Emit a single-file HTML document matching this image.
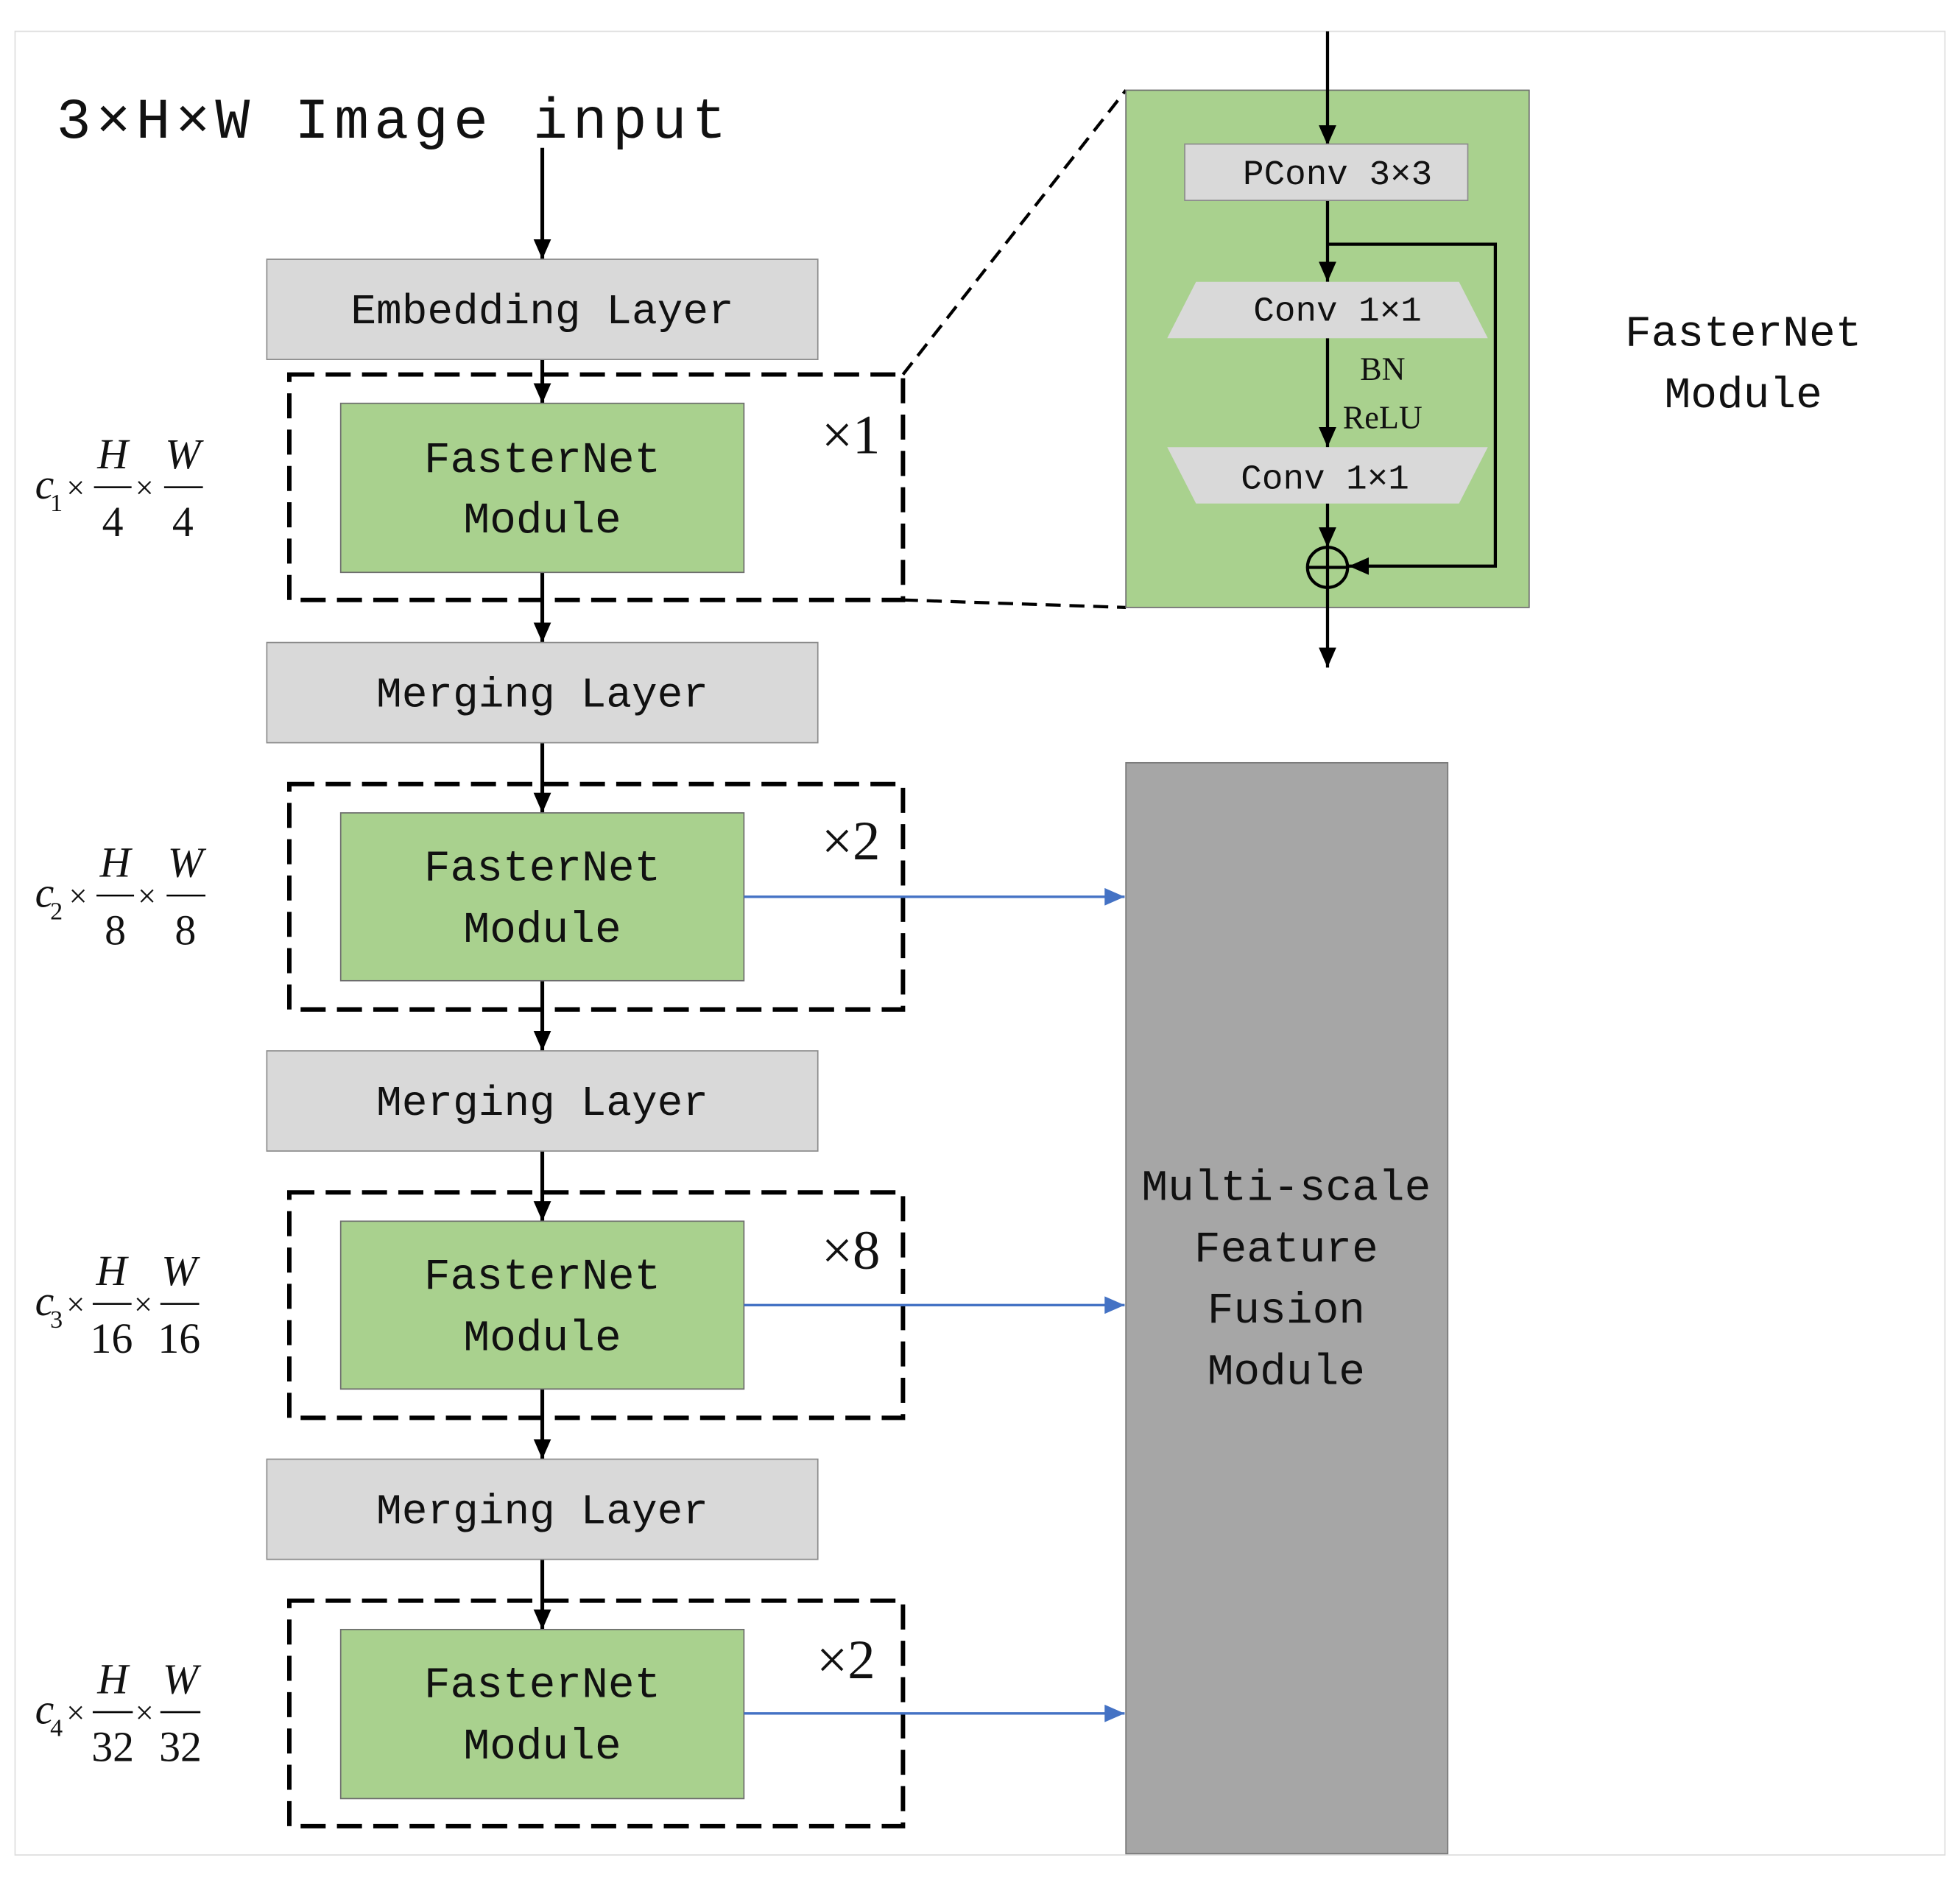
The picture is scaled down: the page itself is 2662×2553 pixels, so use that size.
<!DOCTYPE html>
<html><head><meta charset="utf-8"><style>html,body{margin:0;padding:0;background:#fff}svg{display:block}</style></head>
<body>
<svg width="2662" height="2553" viewBox="0 0 1565 1501" xmlns="http://www.w3.org/2000/svg">
<defs>
<marker id="b" markerWidth="16" markerHeight="14" refX="16" refY="7" orient="auto" markerUnits="userSpaceOnUse"><path d="M0,0 L16,7 L0,14 z" fill="#4472c4"/></marker>
<marker id="k" markerWidth="16" markerHeight="14" refX="16" refY="7" orient="auto" markerUnits="userSpaceOnUse"><path d="M0,0 L16,7 L0,14 z" fill="#000"/></marker>
</defs>
<rect x="12" y="25" width="1541" height="1456" fill="none" stroke="#ddd" stroke-width="1"/>
<g font-family="Liberation Mono, monospace" fill="#111">
<text x="45" y="110" font-size="46" textLength="535" lengthAdjust="spacing">3×H×W  Image input</text>
</g>
<g stroke="#000" stroke-width="3" fill="none">
<line x1="433" y1="118" x2="433" y2="207" marker-end="url(#k)"/>
<line x1="433" y1="287" x2="433" y2="322" marker-end="url(#k)"/>
<line x1="433" y1="457" x2="433" y2="513" marker-end="url(#k)"/>
<line x1="433" y1="593" x2="433" y2="649" marker-end="url(#k)"/>
<line x1="433" y1="783" x2="433" y2="839" marker-end="url(#k)"/>
<line x1="433" y1="919" x2="433" y2="975" marker-end="url(#k)"/>
<line x1="433" y1="1109" x2="433" y2="1165" marker-end="url(#k)"/>
<line x1="433" y1="1245" x2="433" y2="1301" marker-end="url(#k)"/>
</g>
<g fill="#d9d9d9" stroke="#8c8c8c" stroke-width="1">
<rect x="213" y="207" width="440" height="80"/>
<rect x="213" y="513" width="440" height="80"/>
<rect x="213" y="839" width="440" height="80"/>
<rect x="213" y="1165" width="440" height="80"/>
</g>
<g font-family="Liberation Mono, monospace" font-size="34" text-anchor="middle" fill="#111">
<text x="433" y="258">Embedding Layer</text>
<text x="433" y="564">Merging Layer</text>
<text x="433" y="890">Merging Layer</text>
<text x="433" y="1216">Merging Layer</text>
</g>
<g fill="none" stroke="#000" stroke-width="3.5" stroke-dasharray="20 9">
<rect x="231" y="299" width="490" height="180"/>
<rect x="231" y="626" width="490" height="180"/>
<rect x="231" y="952" width="490" height="180"/>
<rect x="231" y="1278" width="490" height="180"/>
</g>
<g fill="#a9d18e" stroke="#6d6d6d" stroke-width="1">
<rect x="272" y="322" width="322" height="135"/>
<rect x="272" y="649" width="322" height="134"/>
<rect x="272" y="975" width="322" height="134"/>
<rect x="272" y="1301" width="322" height="135"/>
</g>
<g font-family="Liberation Mono, monospace" font-size="35" text-anchor="middle" fill="#111">
<text x="433" y="377">FasterNet</text><text x="433" y="425">Module</text>
<text x="433" y="703">FasterNet</text><text x="433" y="752">Module</text>
<text x="433" y="1029">FasterNet</text><text x="433" y="1078">Module</text>
<text x="433" y="1355">FasterNet</text><text x="433" y="1404">Module</text>
</g>
<g font-family="Liberation Serif, serif" font-size="44" fill="#111">
<text x="656" y="362">×1</text>
<text x="656" y="686">×2</text>
<text x="656" y="1013">×8</text>
<text x="652" y="1340">×2</text>
</g>
<g stroke="#4472c4" stroke-width="2">
<line x1="594" y1="716" x2="898" y2="716" marker-end="url(#b)"/>
<line x1="594" y1="1042" x2="898" y2="1042" marker-end="url(#b)"/>
<line x1="594" y1="1368" x2="898" y2="1368" marker-end="url(#b)"/>
</g>
<rect x="899" y="609" width="257" height="871" fill="#a6a6a6" stroke="#777" stroke-width="1"/>
<g font-family="Liberation Mono, monospace" font-size="35" text-anchor="middle" fill="#111">
<text x="1027" y="958">Multi-scale</text>
<text x="1027" y="1007">Feature</text>
<text x="1027" y="1056">Fusion</text>
<text x="1027" y="1105">Module</text>
<text x="1392" y="276">FasterNet</text>
<text x="1392" y="325">Module</text>
</g>
<g stroke="#000" stroke-width="2.5" stroke-dasharray="12 7" fill="none">
<line x1="721" y1="299" x2="899" y2="72"/>
<line x1="721" y1="479" x2="899" y2="485"/>
</g>
<rect x="899" y="72" width="322" height="413" fill="#a9d18e" stroke="#6d6d6d" stroke-width="1"/>
<g stroke="#000" stroke-width="2.5" fill="none">
<line x1="1060" y1="25" x2="1060" y2="116" marker-end="url(#k)"/>
<line x1="1060" y1="160" x2="1060" y2="225" marker-end="url(#k)"/>
<polyline points="1060,195 1194,195 1194,452 1077,452" marker-end="url(#k)"/>
<line x1="1060" y1="270" x2="1060" y2="357" marker-end="url(#k)"/>
<line x1="1060" y1="402" x2="1060" y2="437" marker-end="url(#k)"/>
<line x1="1060" y1="469" x2="1060" y2="533" marker-end="url(#k)"/>
<circle cx="1060" cy="453" r="16"/>
<line x1="1044" y1="453" x2="1076" y2="453"/>
<line x1="1060" y1="437" x2="1060" y2="469"/>
</g>
<rect x="946" y="115" width="226" height="45" fill="#d9d9d9" stroke="#8c8c8c" stroke-width="1"/>
<polygon points="955,225 1165,225 1188,270 932,270" fill="#d9d9d9"/>
<polygon points="932,357 1188,357 1165,402 955,402" fill="#d9d9d9"/>
<g font-family="Liberation Mono, monospace" font-size="28" text-anchor="middle" fill="#111">
<text x="1068" y="147">PConv 3×3</text>
<text x="1068" y="256">Conv 1×1</text>
<text x="1058" y="390">Conv 1×1</text>
</g>
<g font-family="Liberation Serif, serif" font-size="26" text-anchor="middle" fill="#111">
<text x="1104" y="303">BN</text>
<text x="1104" y="342">ReLU</text>
</g>
<g font-family="Liberation Serif, serif" fill="#111">
<g font-size="34">
<text x="28" y="398" font-style="italic">c</text><text x="40" y="408" font-size="20">1</text>
<text x="53" y="398" font-size="26">×</text>
<text x="90" y="374" text-anchor="middle" font-style="italic">H</text>
<text x="90" y="428" text-anchor="middle">4</text>
<text x="108" y="398" font-size="26">×</text>
<text x="146" y="374" text-anchor="middle" font-style="italic">W</text>
<text x="146" y="428" text-anchor="middle">4</text>
</g>
<g font-size="34">
<text x="28" y="724" font-style="italic">c</text><text x="40" y="734" font-size="20">2</text>
<text x="55" y="724" font-size="26">×</text>
<text x="92" y="700" text-anchor="middle" font-style="italic">H</text>
<text x="92" y="754" text-anchor="middle">8</text>
<text x="110" y="724" font-size="26">×</text>
<text x="148" y="700" text-anchor="middle" font-style="italic">W</text>
<text x="148" y="754" text-anchor="middle">8</text>
</g>
<g font-size="34">
<text x="28" y="1050" font-style="italic">c</text><text x="40" y="1060" font-size="20">3</text>
<text x="53" y="1050" font-size="26">×</text>
<text x="89" y="1026" text-anchor="middle" font-style="italic">H</text>
<text x="89" y="1080" text-anchor="middle">16</text>
<text x="107" y="1050" font-size="26">×</text>
<text x="143" y="1026" text-anchor="middle" font-style="italic">W</text>
<text x="143" y="1080" text-anchor="middle">16</text>
</g>
<g font-size="34">
<text x="28" y="1376" font-style="italic">c</text><text x="40" y="1386" font-size="20">4</text>
<text x="53" y="1376" font-size="26">×</text>
<text x="90" y="1352" text-anchor="middle" font-style="italic">H</text>
<text x="90" y="1406" text-anchor="middle">32</text>
<text x="108" y="1376" font-size="26">×</text>
<text x="144" y="1352" text-anchor="middle" font-style="italic">W</text>
<text x="144" y="1406" text-anchor="middle">32</text>
</g>
</g>
<g stroke="#000" stroke-width="1.5">
<line x1="75" y1="389" x2="105" y2="389"/><line x1="131" y1="389" x2="162" y2="389"/>
<line x1="77" y1="715" x2="107" y2="715"/><line x1="133" y1="715" x2="164" y2="715"/>
<line x1="74" y1="1041" x2="105" y2="1041"/><line x1="128" y1="1041" x2="159" y2="1041"/>
<line x1="74" y1="1367" x2="106" y2="1367"/><line x1="128" y1="1367" x2="160" y2="1367"/>
</g>
</svg>
</body></html>
